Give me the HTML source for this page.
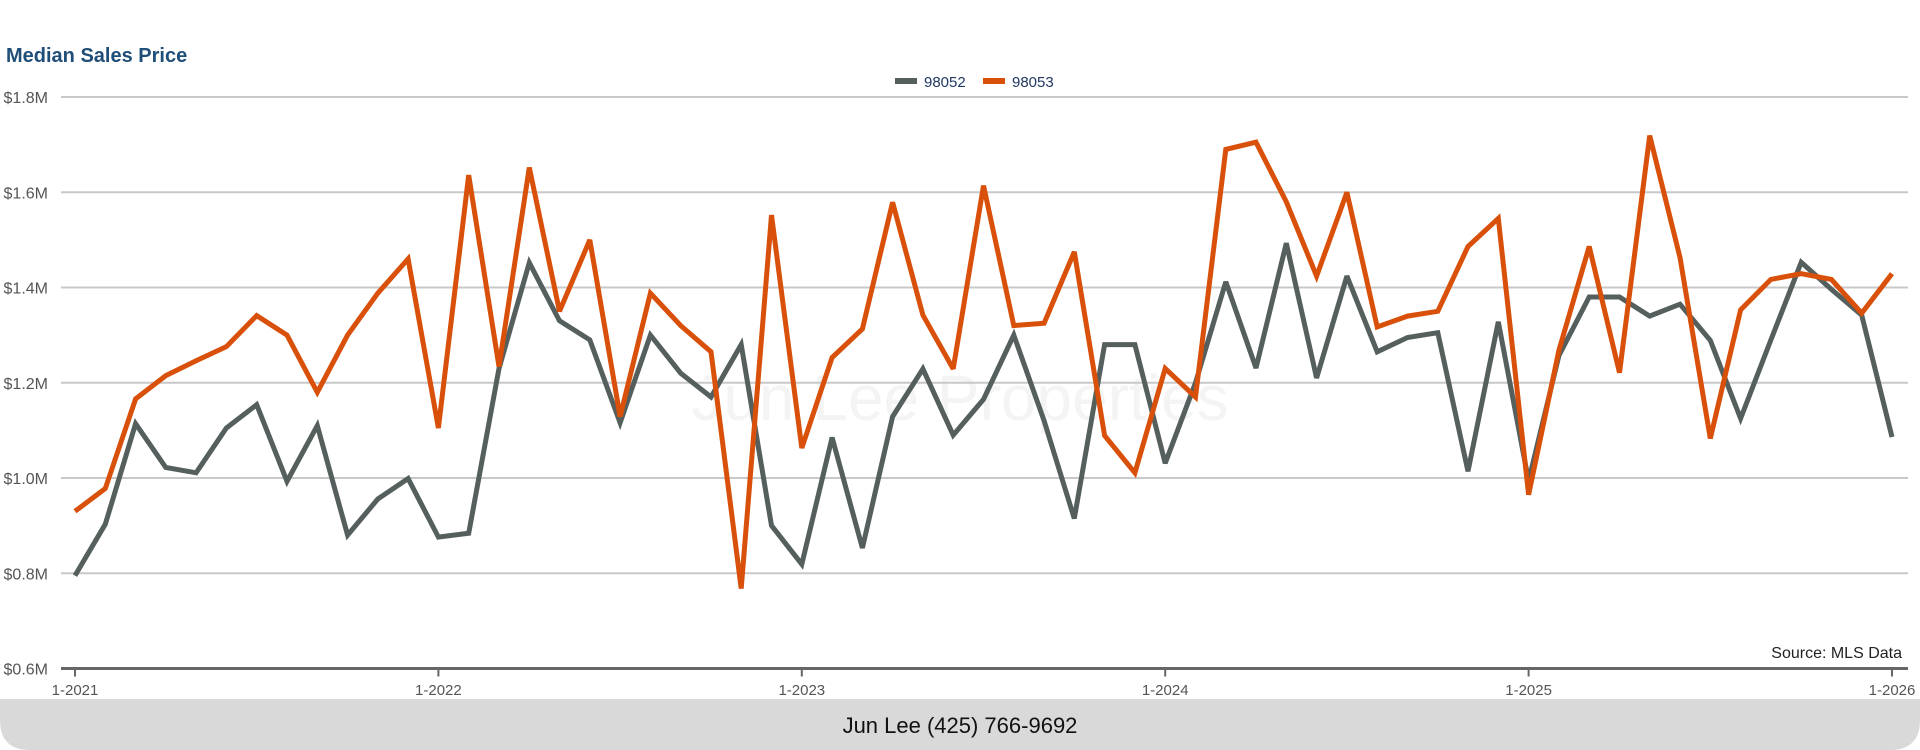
<!DOCTYPE html>
<html><head><meta charset="utf-8"><style>
html,body{margin:0;padding:0;background:#fff;width:1920px;height:750px;overflow:hidden;font-family:"Liberation Sans",sans-serif}
svg{display:block}
</style></head><body>
<svg id="chart" width="1920" height="750" viewBox="0 0 1920 750">
<text x="6" y="62" font-size="20" font-weight="bold" fill="#1f4e79">Median Sales Price</text>
<text x="960" y="420" text-anchor="middle" font-size="64" fill="#f4f4f4">Jun Lee Properties</text>
<g id="grid"></g><g id="lines"></g><g id="axes"></g>
<g>
<g><rect x="895" y="78" width="22" height="6" fill="#555f5d"/><text x="924" y="87" font-size="15" fill="#1f3864">98052</text></g>
<g><rect x="983" y="78" width="22" height="6" fill="#d9500a"/><text x="1012" y="87" font-size="15" fill="#1f3864">98053</text></g>
</g>
<text x="1902" y="658" text-anchor="end" font-size="16" fill="#222">Source: MLS Data</text>
<path d="M0 699 H1920 V720 Q1920 750 1890 750 H30 Q0 750 0 720 Z" fill="#d9d9d9"/>
<text x="960" y="733" text-anchor="middle" font-size="22" fill="#111">Jun Lee (425) 766-9692</text>
</svg>
<script>
const months = 61;
const yTicks = [0.6,0.8,1.0,1.2,1.4,1.6,1.8];
const yTickLabels = ["$0.6M","$0.8M","$1.0M","$1.2M","$1.4M","$1.6M","$1.8M"];
const xTickIdx = [0,12,24,36,48,60];
const xTickLabels = ["1-2021","1-2022","1-2023","1-2024","1-2025","1-2026"];
const s98052 = [0.795,0.903,1.114,1.022,1.011,1.105,1.154,0.993,1.11,0.88,0.956,0.999,0.876,0.884,1.23,1.452,1.33,1.29,1.116,1.30,1.22,1.17,1.28,0.90,0.819,1.085,0.853,1.129,1.229,1.09,1.165,1.30,1.12,0.915,1.28,1.28,1.031,1.2,1.412,1.231,1.493,1.21,1.424,1.265,1.295,1.305,1.014,1.328,0.994,1.257,1.38,1.38,1.34,1.365,1.289,1.125,1.29,1.453,1.396,1.342,1.086];
const s98053 = [0.93,0.978,1.166,1.215,1.246,1.276,1.341,1.30,1.18,1.30,1.388,1.46,1.105,1.636,1.234,1.652,1.35,1.5,1.129,1.388,1.32,1.265,0.768,1.552,1.063,1.253,1.313,1.579,1.342,1.229,1.614,1.32,1.325,1.475,1.089,1.011,1.23,1.17,1.69,1.705,1.58,1.424,1.6,1.317,1.34,1.35,1.486,1.545,0.965,1.268,1.486,1.221,1.719,1.463,1.083,1.353,1.417,1.429,1.417,1.346,1.429];
const NS="http://www.w3.org/2000/svg";
function xs(i){return 75+i*(1892-75)/(months-1);}
function ys(v){return 668.5-(v-0.6)/1.2*(668.5-97);}
function mk(tag,attrs,parent){const e=document.createElementNS(NS,tag);for(const k in attrs)e.setAttribute(k,attrs[k]);parent.appendChild(e);return e;}
const grid=document.getElementById('grid'),axes=document.getElementById('axes'),lines=document.getElementById('lines');
yTicks.forEach((v,k)=>{
  if(k>0){const g=mk('line',{x1:61,x2:1908,y1:ys(v),y2:ys(v),stroke:'#c8c8c8','stroke-width':2},grid);
  
  }
  const t=mk('text',{x:48,y:ys(v)+6,'text-anchor':'end','font-size':16,fill:'#555'},axes);
  t.textContent=yTickLabels[k];
  
  
});
const ax=mk('line',{x1:61,x2:1908,y1:ys(0.6),y2:ys(0.6),stroke:'#666','stroke-width':3},axes);


xTickIdx.forEach((i,k)=>{
  const tk=mk('line',{x1:xs(i),x2:xs(i),y1:ys(0.6),y2:ys(0.6)+8,stroke:'#666','stroke-width':2},axes);
  
  
  const t=mk('text',{x:xs(i),y:695,'text-anchor':'middle','font-size':15,fill:'#555'},axes);
  t.textContent=xTickLabels[k];
  
  
});
function drawLine(arr,color,name){
  const d=arr.map((v,i)=>(i?'L':'M')+xs(i).toFixed(1)+' '+ys(v).toFixed(1)).join(' ');
  const p=mk('path',{d:d,fill:'none',stroke:color,'stroke-width':5,'stroke-linejoin':'miter','stroke-miterlimit':3},lines);
  
  
}
drawLine(s98052,'#555f5d','series-98052-line');
drawLine(s98053,'#d9500a','series-98053-line');
</script>
</body></html>
